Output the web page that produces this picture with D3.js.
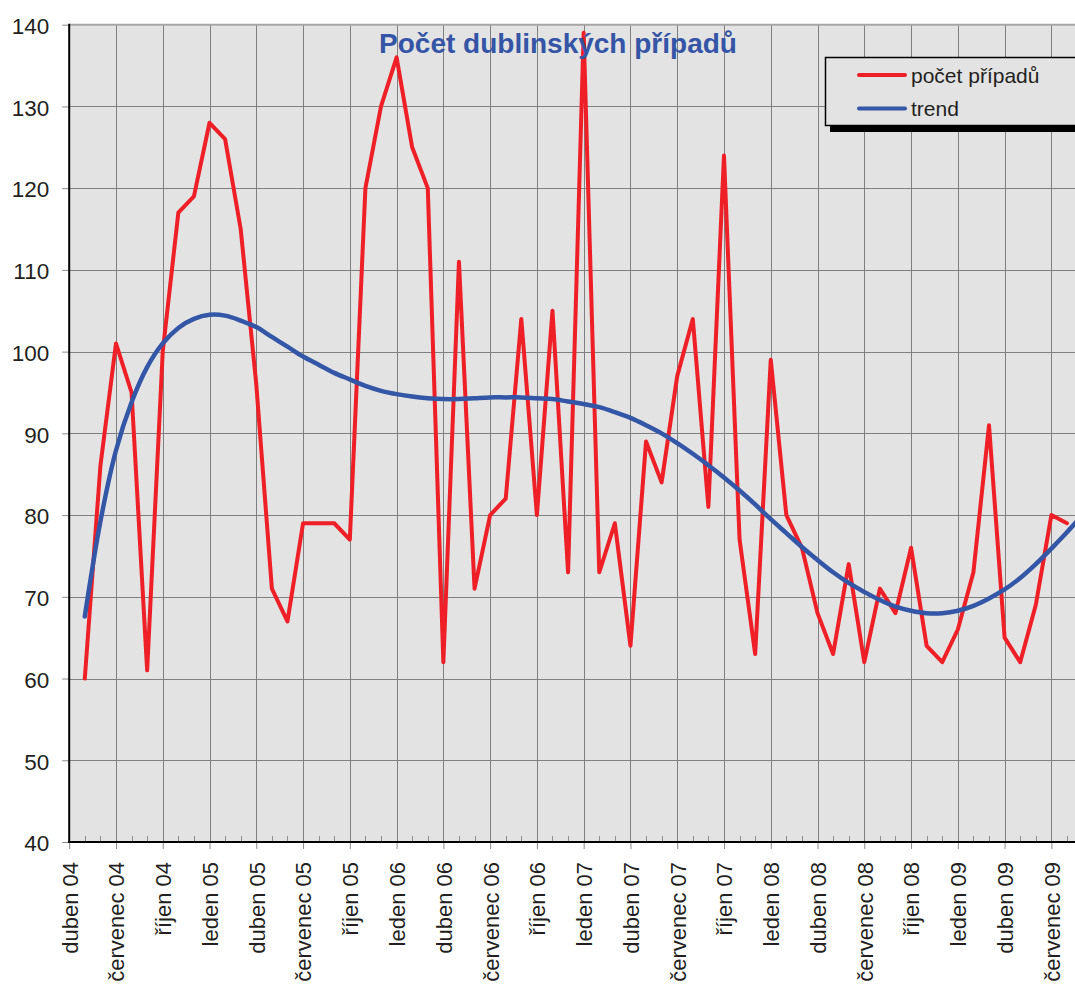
<!DOCTYPE html>
<html><head><meta charset="utf-8">
<script src="https://cdn.jsdelivr.net/npm/d3@7"></script>
<style>body{margin:0;background:#fff}svg{display:block}text{font-family:"Liberation Sans",Arial,sans-serif}</style>
</head><body><svg id="c" width="1075" height="991"></svg>
<script>
// Axis tick labels (every 3 months, starting at the axis origin "duben 04")
const tickLabels = ["duben 04","červenec 04","říjen 04","leden 05","duben 05","červenec 05","říjen 05","leden 06","duben 06","červenec 06","říjen 06","leden 07","duben 07","červenec 07","říjen 07","leden 08","duben 08","červenec 08","říjen 08","leden 09","duben 09","červenec 09"];
const yTicks = [40,50,60,70,80,90,100,110,120,130,140];
// Monthly counts, květen 04 ... srpen 09
const counts = [60,86,101,95,61,100,117,119,128,126,115,96,71,67,79,79,79,77,120,130,136,125,120,62,111,71,80,82,104,80,105,73,139,73,79,64,89,84,97,104,81,124,77,63,99,80,76,68,63,74,62,71,68,76,64,62,66,73,91,65,62,69,80,79];
// Trend line values, květen 04 ... září 09
const trend = [67.6,79.2,87.9,93.8,98.1,101.0,102.9,104.0,104.5,104.4,103.8,103.0,101.8,100.6,99.4,98.4,97.4,96.6,95.8,95.2,94.8,94.5,94.3,94.2,94.2,94.3,94.4,94.4,94.4,94.3,94.2,93.9,93.6,93.2,92.6,91.9,91.0,90.0,88.8,87.5,86.1,84.6,83.0,81.3,79.5,77.8,76.1,74.5,73.0,71.7,70.6,69.6,68.8,68.3,68.0,68.0,68.3,68.9,69.8,70.9,72.3,74.0,75.9,77.9,80.0];
const seriesNames = ["počet případů","trend"];
const title = "Počet dublinských případů";

const svg = d3.select("#c");
const L = 69.2, T = 24.7, B = 842, monthW = 15.59, nMonths = 65;
const R = L + nMonths*monthW;
const x = d3.scaleLinear().domain([0, nMonths]).range([L, R]);
const y = d3.scaleLinear().domain([40, 140]).range([B, T]);

svg.append("defs").append("clipPath").attr("id","clip")
  .append("rect").attr("x",L).attr("y",T-5).attr("width",R-L).attr("height",B-T+10);

// plot background
svg.append("rect").attr("x",L).attr("y",T).attr("width",R-L).attr("height",B-T).attr("fill","#e3e3e3");

// horizontal grid
svg.append("g").selectAll("line").data(yTicks.filter(v=>v>40 && v<140)).join("line")
  .attr("x1",L).attr("x2",R).attr("y1",d=>Math.round(y(d))+0.5).attr("y2",d=>Math.round(y(d))+0.5)
  .attr("stroke","#7f7f7f").attr("stroke-width",1);
// vertical grid (quarterly)
const quarterIdx = tickLabels.map((_,i)=>i*3);
svg.append("g").selectAll("line").data(quarterIdx.filter(i=>i>0)).join("line")
  .attr("x1",d=>Math.round(x(d))+0.5).attr("x2",d=>Math.round(x(d))+0.5).attr("y1",T).attr("y2",B)
  .attr("stroke","#7f7f7f").attr("stroke-width",1);
// top border
svg.append("line").attr("x1",L).attr("x2",R).attr("y1",T).attr("y2",T).attr("stroke","#a6a6a6").attr("stroke-width",2);

// y axis
const yAxis = d3.axisLeft(y).tickValues(yTicks).tickSize(7).tickPadding(13).tickFormat(d3.format("d"));
const gy = svg.append("g").attr("transform",`translate(${L},0)`).call(yAxis);
gy.select(".domain").remove();
gy.selectAll(".tick line").attr("stroke","#8c8c8c");
gy.selectAll(".tick text").attr("font-size",22.5).attr("fill","#231f20").attr("dy","0.39em")
  .style("font-family",'"Liberation Sans",Arial,sans-serif');

// x axis: major ticks (below) + labels
const xAxis = d3.axisBottom(x).tickValues(quarterIdx).tickSize(7).tickFormat((d,i)=>tickLabels[i]);
const gx = svg.append("g").attr("transform",`translate(0,${B})`).call(xAxis);
gx.select(".domain").remove();
gx.selectAll(".tick line").attr("stroke","#8c8c8c");
gx.selectAll(".tick text").attr("font-size",22).attr("fill","#231f20")
  .style("font-family",'"Liberation Sans",Arial,sans-serif')
  .attr("text-anchor","end").attr("transform","rotate(-90)")
  .attr("x",-20).attr("y",0).attr("dy","0.36em");
// minor month ticks (inside)
const minorIdx = d3.range(1, nMonths+1).filter(i=>i%3!==0);
svg.append("g").selectAll("line").data(minorIdx).join("line")
  .attr("x1",d=>Math.round(x(d))+0.5).attr("x2",d=>Math.round(x(d))+0.5).attr("y1",B-6).attr("y2",B)
  .attr("stroke","#8c8c8c");

// axis lines
svg.append("line").attr("x1",L).attr("x2",L).attr("y1",T-1).attr("y2",B+1).attr("stroke","#000").attr("stroke-width",2);
svg.append("line").attr("x1",L-1).attr("x2",R).attr("y1",B).attr("y2",B).attr("stroke","#000").attr("stroke-width",2);

// series
const plot = svg.append("g").attr("clip-path","url(#clip)");
plot.append("path").datum(counts)
  .attr("d", d3.line().x((d,i)=>x(i+1)).y(d=>y(d)))
  .attr("fill","none").attr("stroke","#ee1f26").attr("stroke-width",4).attr("stroke-linejoin","round").attr("stroke-linecap","round");
plot.append("path").datum(trend)
  .attr("d", d3.line().x((d,i)=>x(i+1)).y(d=>y(d)).curve(d3.curveCatmullRom.alpha(0.5)))
  .attr("fill","none").attr("stroke","#3456a6").attr("stroke-width",4.5).attr("stroke-linecap","round");

// title
svg.append("text").attr("x",558).attr("y",53).attr("text-anchor","middle")
  .attr("font-size",28).attr("font-weight","bold").attr("fill","#3454a6").text(title);

// legend
const lg = svg.append("g");
lg.append("rect").attr("x",830).attr("y",62).attr("width",260).attr("height",70).attr("fill","#000");
lg.append("rect").attr("x",825.5).attr("y",57.5).attr("width",260).attr("height",68).attr("fill","#e3e3e3").attr("stroke","#000").attr("stroke-width",1.5);
const legColors = ["#ee1f26","#3456a6"];
const legY = [75, 108.5];
seriesNames.forEach((n,i)=>{
  lg.append("line").attr("x1",859).attr("x2",905).attr("y1",legY[i]).attr("y2",legY[i])
    .attr("stroke",legColors[i]).attr("stroke-width",4).attr("stroke-linecap","round");
  lg.append("text").attr("x",911).attr("y",legY[i]+7.5).attr("font-size",21).attr("fill","#231f20").text(n);
});
</script></body></html>
